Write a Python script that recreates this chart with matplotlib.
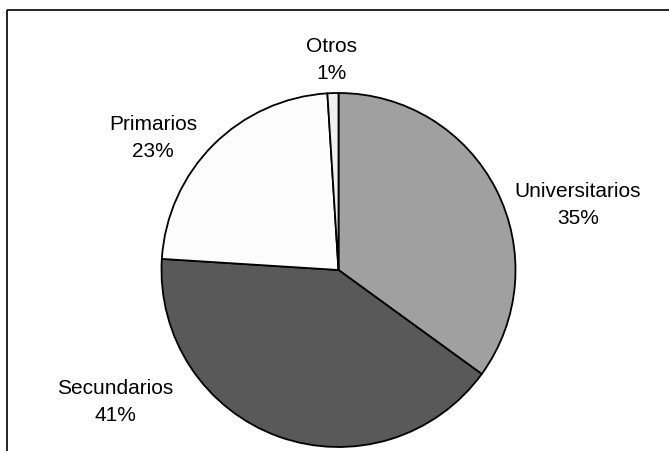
import matplotlib
matplotlib.use("Agg")
import matplotlib.pyplot as plt

# education level shares
labels = ["Universitarios", "Secundarios", "Primarios", "Otros"]
shares = [35, 41, 23, 1]
colors = ["#A0A0A0", "#595959", "#FCFCFC", "#F0F0F0"]

W, H = 669, 452
plt.rcParams["font.family"] = ["Liberation Sans", "DejaVu Sans"]

fig = plt.figure(figsize=(W / 100, H / 100), dpi=100)
ax = fig.add_axes([0, 0, 1, 1])

cx, cy, r = 338.5, H - 271, 177
ax.pie(shares, colors=colors, startangle=90, counterclock=False,
       center=(cx, cy), radius=r,
       wedgeprops=dict(edgecolor="black", linewidth=1.3), frame=True)
ax.set_xlim(0, W); ax.set_ylim(0, H)
ax.set_aspect("equal"); ax.axis("off")

# label positions in pixel coords (x, y from top)
label_pos = [(578, 205), (115, 402), (153, 138), (331, 60)]
for lab, v, (x, y) in zip(labels, shares, label_pos):
    ax.text(x, H - y, f"{lab}\n{v}%", ha="center", va="center",
            fontsize=15, linespacing=1.5, color="black")

# outer frame (only top and left edges visible)
ax.plot([7, 7], [0, H - 11], color="black", lw=1.2, solid_capstyle="butt")
ax.plot([7, W], [H - 11, H - 11], color="black", lw=1.2, solid_capstyle="butt")

fig.savefig("out.png", dpi=100)
